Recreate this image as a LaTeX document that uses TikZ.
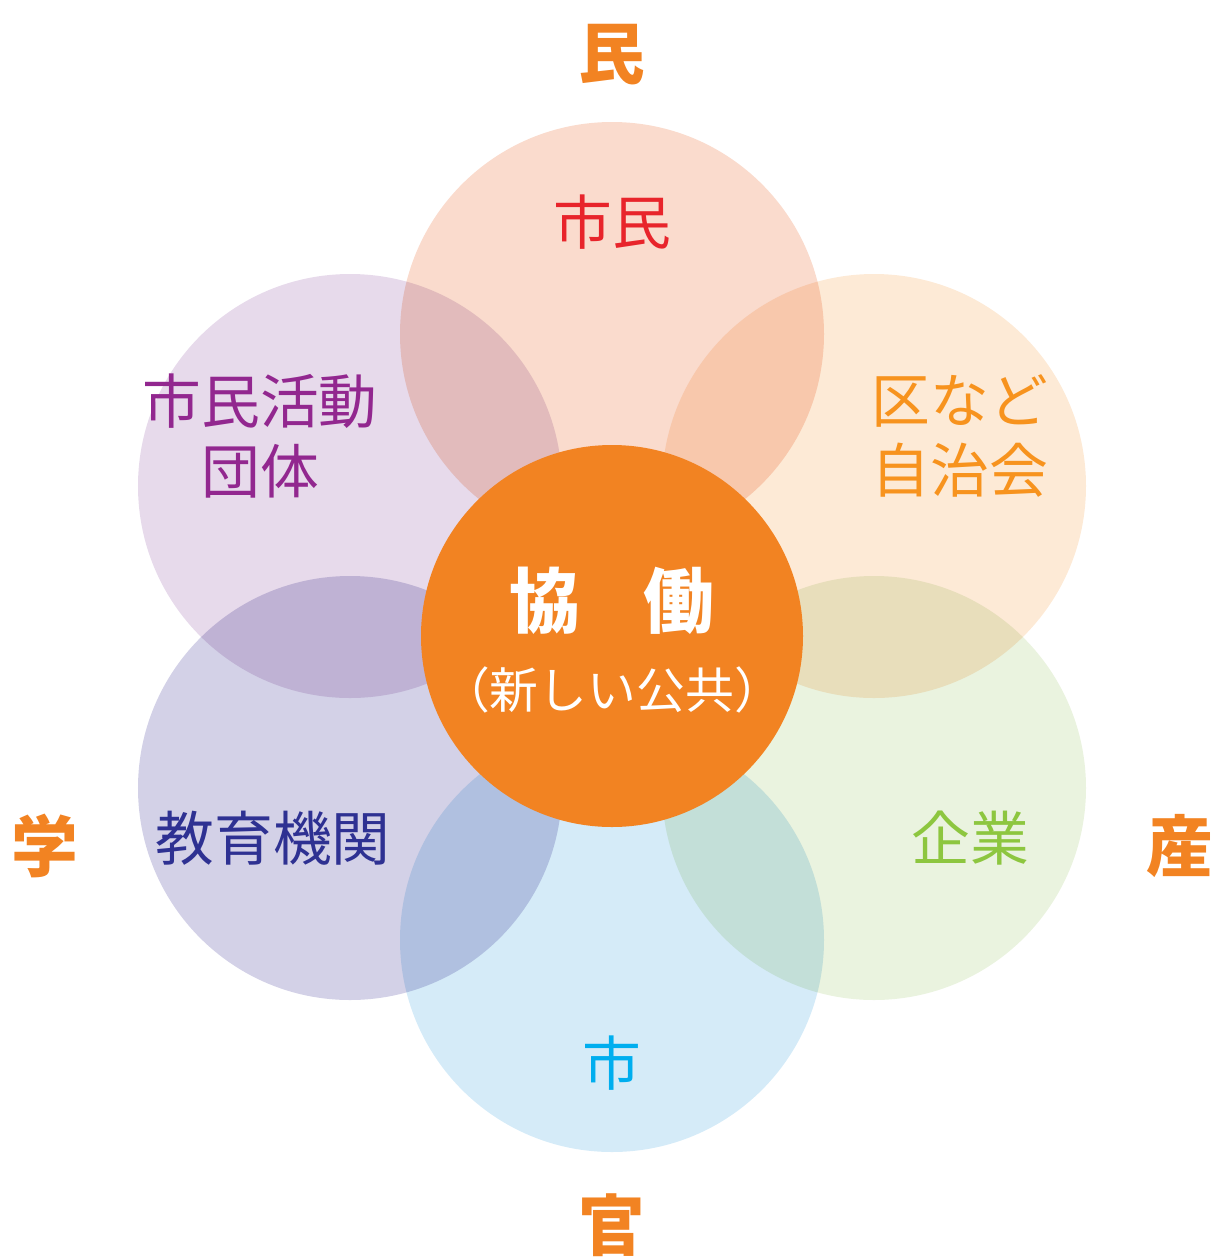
\documentclass[tikz,border=0pt]{standalone}
\usepackage{fontspec}
\newfontfamily\jp{Noto Sans CJK JP}
\definecolor{cTop}{HTML}{FADBCD}
\definecolor{cUR}{HTML}{FDEAD6}
\definecolor{cLR}{HTML}{EAF3DF}
\definecolor{cBot}{HTML}{D5EBF8}
\definecolor{cLL}{HTML}{D3D1E7}
\definecolor{cUL}{HTML}{E7DAEB}
\definecolor{corange}{HTML}{F28322}
\definecolor{tRed}{HTML}{E8242B}
\definecolor{tOrange}{HTML}{F7931E}
\definecolor{tGreen}{HTML}{8DC63F}
\definecolor{tCyan}{HTML}{00AEEF}
\definecolor{tNavy}{HTML}{2E3192}
\definecolor{tPurple}{HTML}{92278F}
\tikzset{
  petal/.style={circle, minimum size=424bp, inner sep=0pt, draw=none},
  corner/.style={text=corange, font=\jp\bfseries\fontsize{67}{70}\selectfont, inner sep=0pt},
  lbl/.style={font=\jp\fontsize{59}{70}\selectfont, inner sep=0pt, align=center},
}
\begin{document}
\begin{tikzpicture}[x=1bp,y=-1bp]
\useasboundingbox (0,0) rectangle (1215,1258);
\begin{scope}[blend group=multiply]
\node[petal, fill=cTop] (top) at (612,334) {};
\node[petal, fill=cUR] (ur) at (874,486) {};
\node[petal, fill=cLR] (lr) at (874,788) {};
\node[petal, fill=cBot] (bot) at (612,940) {};
\node[petal, fill=cLL] (ll) at (350,788) {};
\node[petal, fill=cUL] (ul) at (350,486) {};
\end{scope}
\node[circle, minimum size=382bp, inner sep=0pt, fill=corange] (core) at (612,636) {};
\node[text=white, font=\jp\bfseries\fontsize{71}{74}\selectfont, inner sep=0pt] (kyodo) at (612,601) {協\hspace{0.9em}働};
\node[text=white, font=\jp\fontsize{49}{54}\selectfont, inner sep=0pt] (sub) at (612,690) {（新しい公共）};
\node[corner] (min) at (612,55) {民};
\node[corner] (gaku) at (45,846) {学};
\node[corner] (san) at (1180,846) {産};
\node[corner] (kan) at (612,1225) {官};
\node[lbl, text=tRed] (l1) at (612,222) {市民};
\node[lbl, text=tOrange] (l2) at (960,436) {区など\\自治会};
\node[lbl, text=tGreen] (l3) at (970,838) {企業};
\node[lbl, text=tCyan] (l4) at (612,1063) {市};
\node[lbl, text=tNavy] (l5) at (273,838) {教育機関};
\node[lbl, text=tPurple] (l6) at (260,436) {市民活動\\団体};
\end{tikzpicture}
\end{document}
